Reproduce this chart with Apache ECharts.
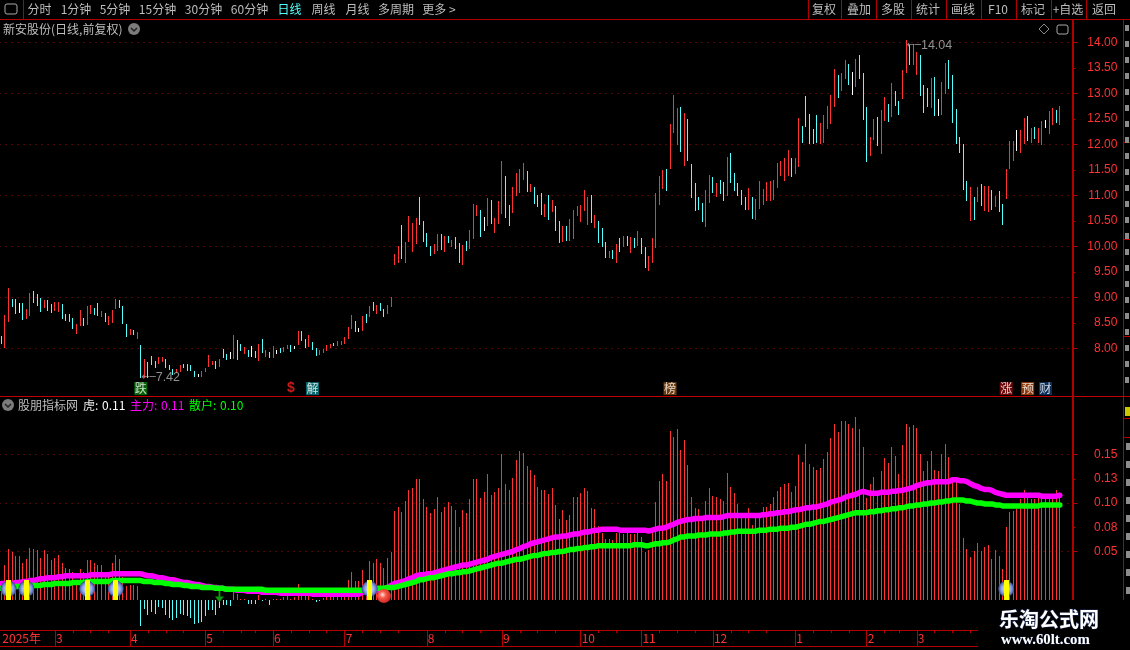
<!DOCTYPE html>
<html><head><meta charset="utf-8">
<style>html,body{margin:0;padding:0;background:#000;overflow:hidden}#c{width:1130px;height:650px}</style>
<script src="https://cdn.jsdelivr.net/npm/echarts@6/dist/echarts.min.js"></script>
</head><body><div id="c"></div>
<script>
const lows=[
8.08,8.00,8.52,8.81,8.67,8.69,8.56,8.58,8.63,8.89,
8.83,8.71,8.79,8.73,8.69,8.73,8.71,8.58,8.54,8.52,
8.38,8.28,8.44,8.44,8.45,8.67,8.65,8.63,8.61,8.52,
8.46,8.50,8.77,8.79,8.48,8.22,8.26,8.26,8.18,7.42,
7.42,7.42,7.67,7.61,7.69,7.73,7.61,7.58,7.48,7.52,
7.54,7.61,7.56,7.56,7.44,7.44,7.44,7.54,7.63,7.67,
7.59,7.63,7.81,7.77,7.79,7.79,7.77,7.95,7.89,7.83,
7.83,7.81,7.75,7.91,7.83,7.81,7.81,7.89,7.91,7.93,
7.99,7.93,7.99,8.07,8.14,8.01,8.03,7.97,7.85,7.87,
7.91,7.95,8.01,8.05,8.05,8.07,8.08,8.18,8.38,8.32,
8.32,8.34,8.50,8.61,8.73,8.67,8.73,8.61,8.67,8.81,
9.63,9.67,9.75,9.67,10.08,9.89,10.05,10.42,10.08,9.99,
9.81,9.85,9.91,9.93,9.89,10.07,9.99,9.95,9.67,9.63,
9.91,9.95,10.14,10.59,10.18,10.30,10.40,10.44,10.26,10.44,
10.63,10.56,10.40,10.65,10.99,11.05,11.30,11.07,11.07,10.83,
10.77,10.61,10.58,10.52,10.67,10.30,10.07,10.08,10.10,10.10,
10.14,10.59,10.48,10.69,10.42,10.46,10.36,10.07,9.99,9.77,
9.77,9.75,9.67,9.89,9.99,10.01,9.87,9.97,10.01,9.85,
9.58,9.52,9.67,9.97,10.81,11.12,11.08,11.52,12.22,11.99,
11.85,11.58,11.67,10.94,10.69,10.71,10.48,10.38,10.85,11.05,
10.97,11.03,10.89,10.99,11.24,11.08,10.99,10.81,10.71,10.71,
10.54,10.52,10.73,10.81,10.89,10.89,10.91,11.14,11.38,11.28,
11.38,11.36,11.42,11.56,12.03,12.34,12.01,12.01,12.03,12.01,
12.03,12.30,12.40,12.73,12.91,13.05,13.28,13.16,12.97,13.12,
13.28,12.48,11.65,11.77,12.08,11.97,11.81,12.46,12.44,12.54,
12.75,12.58,12.89,13.40,13.56,13.56,13.36,12.95,12.61,12.73,
12.71,12.56,12.56,12.58,12.99,13.08,12.42,12.01,11.83,11.10,
10.89,10.50,10.52,10.87,10.79,10.69,10.67,10.71,10.77,10.67,
10.42,10.93,11.52,11.67,11.87,11.83,12.01,12.07,12.03,12.10,
12.03,11.99,12.32,12.20,12.38,12.42,12.38];
const highs=[
8.24,8.65,9.18,8.97,8.97,8.89,8.89,8.77,9.08,9.12,
9.07,8.99,8.95,8.95,8.87,8.91,8.91,8.87,8.67,8.67,
8.59,8.48,8.75,8.59,8.83,8.85,8.79,8.89,8.73,8.69,
8.63,8.75,8.97,8.95,8.83,8.48,8.38,8.36,8.32,8.07,
7.79,7.73,7.85,7.75,7.83,7.83,7.79,7.67,7.59,7.59,
7.67,7.69,7.69,7.67,7.56,7.50,7.56,7.61,7.87,7.75,
7.75,7.79,7.99,7.89,7.93,8.26,8.16,8.08,8.03,7.97,
8.05,7.95,8.08,8.18,7.97,7.93,8.05,7.97,8.01,8.03,
8.07,8.07,8.05,8.34,8.34,8.18,8.26,8.12,8.01,7.97,
7.99,8.07,8.08,8.10,8.14,8.14,8.22,8.42,8.65,8.54,
8.40,8.63,8.67,8.83,8.91,8.85,8.89,8.77,8.85,9.01,
9.85,10.01,10.42,10.08,10.59,10.46,10.56,10.97,10.50,10.26,
10.01,10.05,10.24,10.24,10.20,10.20,10.12,10.18,10.07,10.03,
10.10,10.32,10.83,10.81,10.71,10.58,10.95,10.91,10.56,10.89,
11.67,11.38,10.81,11.16,11.44,11.52,11.63,11.48,11.22,11.16,
11.01,11.05,10.83,11.01,10.91,10.79,10.50,10.40,10.40,10.54,
10.71,10.79,10.81,11.10,10.97,11.01,10.61,10.50,10.36,10.08,
9.91,9.93,10.05,10.16,10.20,10.20,10.18,10.16,10.30,10.16,
9.99,9.81,10.16,11.05,11.38,11.50,11.52,12.40,12.97,12.71,
12.73,12.61,12.50,11.61,11.24,10.97,10.85,11.10,11.40,11.36,
11.24,11.30,11.26,11.75,11.83,11.44,11.24,11.10,10.97,11.14,
10.97,10.93,11.28,11.12,11.26,11.28,11.30,11.63,11.67,11.73,
11.89,11.73,11.73,12.52,12.36,12.95,12.59,12.30,12.58,12.42,
12.58,12.75,12.97,13.48,13.36,13.40,13.65,13.57,13.42,13.67,
13.75,13.40,12.73,12.14,12.50,12.54,12.67,12.93,12.79,13.20,
13.05,12.85,13.46,14.04,13.95,13.97,13.81,13.75,13.16,13.10,
13.30,13.32,12.89,13.22,13.59,13.65,13.36,12.69,12.14,12.01,
11.28,11.16,10.97,11.16,11.22,11.18,11.18,11.10,10.99,11.08,
10.83,11.52,12.07,12.07,12.28,12.28,12.52,12.56,12.32,12.34,
12.32,12.46,12.48,12.65,12.71,12.67,12.75];
const tones=("crrccwcrrc"+"ccrccrrccc"+"crrcrrccrc"+"rrrcccrcrc"+"rcccrrcccr"+"rccccwrrrr"+"crccwrccrc"+"wcrcrcrwcr"+"rcwrccrccr"+"rrrcrrrrrc"+
"wrcrcrccrr"+"rrcrrrrccc"+"crrcrcrccr"+"crrrcwrcrr"+"rccrrrrcrc"+"ccrcrccrcr"+"rrrrrcrccc"+"rcrcrcrcrc"+"crrrrrcrrr"+"crcccccrrc"+
"rccrcccccr"+"crrrrrrrrr"+"rcrrcccccr"+"rrrrcrrcwr"+"cccrrcrrcr"+"ccrrcrrccc"+"rcwrrccccc"+"crcrcrrcrc"+"crrrwrrcrc"+"rrwrrcr").split('');
const osc=[
.020,.036,.053,.049,.045,.045,.038,.042,.054,.053,
.052,.043,.052,.047,.041,.043,.046,.038,.033,.032,
.029,.021,.032,.029,.041,.041,.038,.036,.036,.027,
.026,.038,.046,.042,.024,.014,.015,.015,.014,-.027,
-.009,-.015,-.012,-.014,-.007,-.008,-.015,-.019,-.021,-.019,
-.014,-.015,-.016,-.019,-.025,-.024,-.023,-.016,-.010,-.010,
-.015,-.008,-.005,-.005,-.006,.009,.006,.001,.001,-.004,
-.004,-.004,.005,-.001,.001,-.005,.001,.001,.001,.003,
.004,.001,.003,.016,.006,.004,.006,.001,-.002,-.001,
.002,.005,.005,.005,.005,.005,.007,.021,.029,.020,
.020,.031,.015,.040,.038,.042,.038,.033,.043,.049,
.092,.096,.091,.102,.113,.115,.125,.125,.104,.096,
.090,.094,.106,.091,.096,.101,.097,.093,.075,.093,
.090,.104,.125,.125,.105,.111,.130,.108,.111,.115,
.151,.120,.113,.126,.144,.154,.152,.138,.134,.129,
.116,.113,.113,.109,.115,.098,.084,.093,.082,.088,
.106,.106,.110,.115,.112,.095,.094,.076,.069,.063,
.063,.062,.069,.069,.068,.069,.068,.068,.069,.065,
.049,.052,.070,.101,.123,.130,.123,.174,.168,.176,
.155,.165,.139,.106,.095,.094,.082,.102,.115,.107,
.106,.104,.102,.131,.116,.110,.099,.090,.090,.095,
.077,.085,.090,.096,.096,.099,.106,.112,.117,.120,
.121,.111,.118,.150,.142,.161,.140,.137,.134,.136,
.145,.153,.167,.181,.173,.185,.185,.181,.177,.189,
.176,.158,.105,.120,.127,.111,.133,.146,.141,.158,
.148,.130,.160,.181,.178,.180,.177,.151,.133,.143,
.154,.134,.133,.151,.161,.147,.124,.124,.099,.064,
.053,.044,.051,.059,.051,.055,.057,.042,.052,.045,
.032,.075,.091,.092,.094,.104,.113,.105,.104,.104,
.106,.105,.106,.104,.105,.113,.106];
const mainForce=[
.017,.017,.017,.017,.018,.018,.019,.019,.020,.020,
.021,.022,.022,.023,.023,.023,.024,.024,.025,.025,
.025,.025,.025,.025,.025,.026,.026,.026,.026,.026,
.026,.027,.027,.027,.027,.027,.027,.027,.027,.027,
.026,.025,.025,.024,.023,.023,.022,.021,.021,.020,
.019,.018,.018,.017,.016,.016,.015,.014,.014,.013,
.013,.012,.012,.011,.011,.011,.010,.010,.010,.009,
.009,.009,.009,.008,.008,.008,.008,.008,.007,.007,
.007,.007,.007,.007,.007,.007,.007,.006,.006,.006,
.006,.006,.006,.006,.006,.006,.006,.006,.006,.006,
.006,.008,.009,.009,.010,.010,.011,.012,.013,.015,
.017,.018,.019,.020,.022,.023,.025,.026,.026,.027,
.027,.028,.029,.030,.031,.032,.033,.034,.035,.036,
.036,.037,.038,.039,.040,.041,.042,.044,.045,.046,
.047,.048,.049,.050,.052,.053,.055,.056,.058,.059,
.060,.061,.062,.063,.064,.065,.065,.066,.066,.067,
.068,.068,.069,.070,.070,.071,.072,.072,.073,.073,
.073,.073,.073,.072,.072,.072,.072,.072,.072,.072,
.072,.071,.072,.073,.074,.074,.075,.077,.078,.080,
.081,.082,.083,.083,.084,.084,.084,.085,.085,.085,
.085,.085,.086,.087,.087,.087,.087,.087,.087,.087,
.087,.087,.087,.088,.088,.089,.089,.090,.090,.091,
.091,.092,.093,.093,.094,.095,.095,.096,.096,.097,
.098,.099,.101,.102,.103,.104,.106,.107,.108,.109,
.111,.112,.111,.110,.110,.110,.111,.111,.111,.112,
.112,.113,.113,.114,.115,.116,.118,.119,.120,.121,
.121,.122,.122,.122,.122,.122,.124,.124,.123,.123,
.122,.120,.118,.117,.115,.114,.114,.113,.111,.110,
.109,.108,.108,.108,.108,.108,.108,.108,.108,.108,
.108,.107,.107,.107,.107,.107,.108];
const retail=[
.012,.012,.012,.013,.014,.014,.014,.014,.015,.015,
.015,.015,.016,.016,.016,.017,.017,.017,.017,.017,
.018,.018,.018,.018,.019,.019,.019,.019,.019,.019,
.019,.020,.020,.020,.020,.020,.020,.020,.020,.020,
.019,.019,.019,.018,.018,.018,.017,.017,.016,.016,
.016,.015,.015,.014,.014,.014,.013,.013,.013,.013,
.012,.012,.012,.011,.011,.011,.011,.011,.011,.011,
.011,.011,.011,.011,.010,.010,.010,.010,.010,.010,
.010,.010,.010,.010,.010,.010,.010,.010,.010,.010,
.010,.010,.010,.010,.010,.010,.010,.010,.010,.010,
.010,.010,.010,.011,.011,.012,.012,.012,.013,.013,
.013,.014,.015,.016,.017,.018,.019,.021,.021,.022,
.023,.023,.024,.025,.026,.027,.027,.028,.028,.029,
.029,.030,.031,.032,.033,.034,.035,.036,.037,.038,
.038,.039,.040,.041,.042,.042,.043,.044,.045,.046,
.046,.047,.048,.048,.049,.049,.050,.050,.051,.052,
.052,.053,.053,.054,.054,.055,.055,.056,.056,.056,
.056,.056,.056,.056,.056,.056,.056,.057,.057,.057,
.056,.056,.057,.058,.058,.059,.059,.060,.062,.063,
.065,.065,.066,.066,.066,.067,.067,.067,.068,.068,
.068,.068,.069,.069,.070,.070,.071,.071,.071,.071,
.071,.071,.072,.072,.072,.073,.073,.073,.074,.074,
.074,.075,.075,.076,.077,.078,.078,.079,.080,.081,
.081,.082,.083,.084,.085,.086,.087,.088,.089,.090,
.090,.090,.090,.091,.091,.092,.092,.093,.093,.094,
.094,.095,.095,.096,.097,.097,.098,.098,.099,.099,
.100,.100,.101,.101,.102,.102,.103,.103,.103,.103,
.102,.102,.101,.100,.100,.099,.099,.099,.098,.098,
.097,.097,.097,.097,.097,.097,.097,.097,.097,.097,
.097,.098,.098,.098,.098,.098,.098];
const priceTickMajor=[8,9,10,11,12,13,14];
const priceTickMinor=[8.5,9.5,10.5,11.5,12.5,13.5];
const priceLabels=[8,8.5,9,9.5,10,10.5,11,11.5,12,12.5,13,13.5,14];
const oscTickMajor=[.05,.10,.15];
const oscTickMinor=[.075,.125];
const oscLabelText={'0.05':'0.05','0.075':'0.08','0.1':'0.10','0.125':'0.13','0.15':'0.15'};
const monthIdx=[0,15,36,57,76,96,119,140,162,179,199,222,242,256];
const monthText=['2025年','3','4','5','6','7','8','9','10','11','12','1','2','3'];
const weekIdx=[20,25,30,41,46,51,62,67,71,81,86,91,101,106,111,124,129,134,145,150,155,167,172,184,189,194,204,209,214,227,232,237,247,251,261,266,271];
const signalIdx=[2,7,24,32,103,281];
const signalTop=.0205, signalMid=.0115;
const ballIdx=107, ballVal=.004;
const dropIdx=61, dropVal=.0036;
const flags=[
 {i:39,t:'跌',bg:'#0a7a0a',fg:'#fff'},{i:81,t:'$',bg:'#000',fg:'#ff2020'},{i:87,t:'解',bg:'#0a7f86',fg:'#fff'},
 {i:187,t:'榜',bg:'#8a4a10',fg:'#fff'},{i:281,t:'涨',bg:'#8a0a0a',fg:'#fff'},{i:287,t:'预',bg:'#b04a10',fg:'#fff'},{i:292,t:'财',bg:'#103a70',fg:'#fff'}];
const flagLevel=7.21;
const lowMark={i:39,v:7.42,text:'7.42'}, highMark={i:253,v:14.04,text:'14.04'};
const leftButtons=[['分时',39.5],['1分钟',76],['5分钟',115],['15分钟',157.5],['30分钟',203.5],['60分钟',249.5],['日线',289.5,'#54ffff'],['周线',323.5],['月线',357.5],['多周期',396],['更多 >',439]];
const rightButtons=[['复权',824],['叠加',859],['多股',893],['统计',928],['画线',963],['F10',998],['标记',1033],['+自选',1068],['返回',1104]];
const rightSeps=[808,841,876,911,946,981,1016,1051,1086];
const legendItems=[['股朋指标网',18,'#bdbdbd'],['虎:',83,'#e8e8e8'],['0.11',102,'#ffffff'],['主力:',130,'#ff00ff'],['0.11',161,'#ff00ff'],['散户:',189,'#00ff00'],['0.10',220,'#00ff00']];

const RED='#ff3232',CYAN='#54ffff',LINE='#b00000',DOT='#a01010';
const toneColor={r:RED,c:CYAN,w:'#ffffff'};
const BAND=3.576,N=300,LEFT=1.33-BAND/2;
const cats=Array.from({length:N},(_,i)=>String(i));
const timeCats=cats.map(()=>'');
monthIdx.forEach((x,k)=>timeCats[x]=monthText[k]);
const FONT='"Noto Sans CJK SC"';

function renderCandle(params,api){
  const i=api.value(0), hi=api.coord([i,api.value(2)]), lo=api.coord([i,api.value(1)]);
  const top=Math.round(hi[1]), h=Math.max(1,Math.round(lo[1])-top);
  return {type:'rect',shape:{x:Math.floor(hi[0]),y:top,width:1,height:h},style:{fill:toneColor[tones[i]]}};
}
function renderOsc(params,api){
  const i=api.value(0), v=api.value(1), a=api.coord([i,0]), b=api.coord([i,v]);
  const y0=Math.round(Math.min(a[1],b[1])), y1=Math.round(Math.max(a[1],b[1]));
  return {type:'rect',shape:{x:Math.floor(a[0]),y:y0,width:1,height:Math.max(1,y1-y0)},style:{fill:v<0?CYAN:RED}};
}
function renderSignal(params,api){
  const i=api.value(0), a=api.coord([i,0]), b=api.coord([i,api.value(1)]);
  const y0=Math.round(b[1]);
  return {type:'rect',shape:{x:Math.floor(a[0])-2,y:y0,width:5,height:Math.round(a[1])-y0},style:{fill:'#ffff00'}};
}

const g=[];
function txt(t,x,y,fill,align,font){g.push({type:'text',z:100,x,y,style:{text:t,fill:fill||'#bdbdbd',align:align||'left',verticalAlign:'middle',font:font||('12px '+FONT)}});}
function rect(x,y,w,h,fill){g.push({type:'rect',z:99,shape:{x,y,width:w,height:h},style:{fill}});}
function chevCircle(x,y){
  g.push({type:'circle',z:100,shape:{cx:x,cy:y,r:6},style:{fill:'#7c7c7c'}});
  g.push({type:'polyline',z:101,shape:{points:[[x-3,y-1],[x,y+2],[x+3,y-1]]},style:{stroke:'#222',lineWidth:1.5,fill:null}});
}
rect(978,600,152,50,'#000');
rect(0,19,1130,1,LINE);
rect(0,396,1123,1,'#c00000');
rect(23,0,1,19,LINE);
rect(1072,19,2,581,LINE);
rect(1123,19,1,581,LINE);
rightSeps.forEach(x=>rect(x,0,1,19,LINE));
[142,239,336,396,418,437].forEach(y=>rect(1124,y,6,1,LINE));
for(let y=25;y<392;y+=16){ if(Math.abs(y-142)>4&&Math.abs(y-239)>4&&Math.abs(y-336)>4) rect(1125,y,4,6,'#8c8c8c'); }
for(let y=443;y<592;y+=18){ rect(1126,y,4,7,'#8c8c8c'); }
rect(1125,407,5,9,'#c8c800');
g.push({type:'rect',z:100,shape:{x:5,y:4,width:12,height:10,r:2},style:{fill:'#000',stroke:'#a8a8a8',lineWidth:1}});
rect(11,5,5,8,'#a8a8a8');
leftButtons.forEach(b=>txt(b[0],b[1],9.5,b[2]||'#bdbdbd','center'));
rightButtons.forEach(b=>txt(b[0],b[1],9.5,'#bdbdbd','center'));
txt('新安股份(日线,前复权)',3,29,'#bdbdbd');
chevCircle(134,29);
g.push({type:'polygon',z:100,shape:{points:[[1044,24],[1049,29],[1044,34],[1039,29]]},style:{fill:null,stroke:'#8a8a8a',lineWidth:1}});
g.push({type:'rect',z:100,shape:{x:1057,y:25,width:11,height:9,r:2},style:{fill:'#000',stroke:'#a8a8a8',lineWidth:1}});
rect(1063,26,4,7,'#a8a8a8');
chevCircle(8,405);
legendItems.forEach(it=>txt(it[0],it[1],405,it[2]));
txt('乐淘公式网',999,619,'#ffffff','left','bold 20px '+FONT);
g[g.length-1].style.stroke='#1c2c58';g[g.length-1].style.lineWidth=1;
txt('www.60lt.com',1001,640,'#ffffff','left','bold 14.8px "Liberation Serif"');
g[g.length-1].style.stroke='#1c2c58';g[g.length-1].style.lineWidth=.6;

const grids=[
 {left:LEFT,width:BAND*N,top:16.8,height:382.5,outerBoundsMode:'none'},
 {left:LEFT,width:BAND*N,top:406,height:242.5,outerBoundsMode:'none'},
 {left:LEFT,width:BAND*N,top:630,height:16,outerBoundsMode:'none'}];
const hiddenX=i=>({type:'category',gridIndex:i,data:cats,show:false,boundaryGap:true});
const arrowRich=t=>'{a|←─}{b|'+t+'}';
const markRich={a:{fontSize:10,fontFamily:'"DejaVu Sans"',color:'#b4b4b4'},b:{fontSize:12.5,fontFamily:'"Liberation Sans"',color:'#b4b4b4'}};
const opt={
 backgroundColor:'#000',animation:false,
 grid:grids,
 xAxis:[hiddenX(0),hiddenX(1),
  {type:'category',gridIndex:2,position:'top',data:timeCats,boundaryGap:true,
   axisLine:{show:true,onZero:false,lineStyle:{color:LINE,width:1}},
   axisTick:{show:true,inside:true,length:16,alignWithLabel:true,customValues:monthIdx.slice(1),lineStyle:{color:LINE}},
   axisLabel:{show:true,inside:true,customValues:monthIdx,color:RED,fontSize:12,fontFamily:FONT,margin:2,align:'left',padding:[0,0,0,1],verticalAlign:'top',formatter:v=>v,hideOverlap:false}},
  {type:'category',gridIndex:2,position:'bottom',data:timeCats,boundaryGap:true,
   axisLine:{show:true,onZero:false,lineStyle:{color:LINE,width:1}},axisTick:{show:false},axisLabel:{show:false}},
  {type:'category',gridIndex:2,position:'top',data:timeCats,boundaryGap:true,
   axisLine:{show:false,onZero:false},
   axisTick:{show:true,inside:true,length:3,alignWithLabel:true,customValues:weekIdx,lineStyle:{color:LINE}},
   axisLabel:{show:false}}],
 yAxis:[
  {type:'value',gridIndex:0,position:'right',min:7,max:14.5,interval:1,
   axisLine:{show:false},
   axisTick:{show:true,length:5,customValues:priceTickMajor,lineStyle:{color:LINE,width:1}},
   splitLine:{show:true,lineStyle:{color:DOT,type:[1,5],width:1}},
   axisLabel:{show:true,customValues:priceLabels,color:RED,fontSize:12,fontFamily:'"Liberation Sans"',align:'right',margin:45,padding:[4,0,0,0],formatter:v=>v.toFixed(2),hideOverlap:false}},
  {type:'value',gridIndex:1,position:'right',min:-.05,max:.2,interval:.05,
   axisLine:{show:false},
   axisTick:{show:true,length:5,customValues:oscTickMajor,lineStyle:{color:LINE,width:1}},
   splitLine:{show:true,lineStyle:{color:DOT,type:[1,5],width:1}},
   axisLabel:{show:true,customValues:oscTickMajor.concat(oscTickMinor),color:RED,fontSize:12,fontFamily:'"Liberation Sans"',align:'right',margin:45,padding:[4,0,0,0],formatter:v=>oscLabelText[String(+v.toFixed(3))]||'',hideOverlap:false}},
  {type:'value',gridIndex:2,show:false,min:0,max:1},
  {type:'value',gridIndex:0,position:'right',min:7,max:14.5,interval:1,
   axisLine:{show:false,onZero:false},splitLine:{show:false},axisLabel:{show:false},
   axisTick:{show:true,length:3,customValues:priceTickMinor,lineStyle:{color:LINE,width:1}}},
  {type:'value',gridIndex:1,position:'right',min:-.05,max:.2,interval:.05,
   axisLine:{show:false,onZero:false},splitLine:{show:false},axisLabel:{show:false},
   axisTick:{show:true,length:3,customValues:oscTickMinor,lineStyle:{color:LINE,width:1}}}],
 graphic:{elements:g},
 series:[
  {type:'custom',name:'K线',xAxisIndex:0,yAxisIndex:0,renderItem:renderCandle,z:3,
   data:lows.map((l,i)=>[i,l,highs[i]]),encode:{x:0,y:[1,2]},clip:false},
  {type:'scatter',xAxisIndex:0,yAxisIndex:0,symbolSize:1,itemStyle:{color:'rgba(0,0,0,0)'},z:5,
   data:[[lowMark.i,lowMark.v]],
   label:{show:true,position:'right',distance:0,formatter:arrowRich(lowMark.text),rich:markRich}},
  {type:'scatter',xAxisIndex:0,yAxisIndex:0,symbolSize:1,itemStyle:{color:'rgba(0,0,0,0)'},z:5,
   data:[[highMark.i,highMark.v]],
   label:{show:true,position:'right',distance:0,offset:[0,5],formatter:arrowRich(highMark.text),rich:markRich}},
  {type:'scatter',xAxisIndex:0,yAxisIndex:0,symbol:'rect',symbolSize:13,z:5,
   data:flags.map(f=>({value:[f.i,flagLevel],itemStyle:{color:f.bg},
     label:{show:true,position:'inside',formatter:f.t,color:f.fg,fontSize:f.t==='$'?14:12,fontWeight:f.t==='$'?'bold':'normal',fontFamily:f.t==='$'?'"Liberation Sans"':FONT}}))},
  {type:'custom',name:'虎',xAxisIndex:1,yAxisIndex:1,renderItem:renderOsc,z:2,
   data:osc.map((v,i)=>[i,v]),encode:{x:0,y:1},clip:false},
  {type:'line',name:'主力',xAxisIndex:1,yAxisIndex:1,data:mainForce,showSymbol:false,lineStyle:{color:'#ff00ff',width:5.5,cap:'round'},z:3},
  {type:'line',name:'散户',xAxisIndex:1,yAxisIndex:1,data:retail,showSymbol:false,lineStyle:{color:'#00ff00',width:5.5,cap:'round'},z:4},
  {type:'scatter',xAxisIndex:1,yAxisIndex:1,symbol:'circle',symbolSize:16,z:6,
   data:signalIdx.map(i=>[i,signalMid]),
   itemStyle:{opacity:1,color:new echarts.graphic.RadialGradient(.5,.5,.5,[{offset:0,color:'#f0f4ff'},{offset:.6,color:'#8ea4e4'},{offset:.85,color:'#5a70b8'},{offset:1,color:'#2c3c80'}])}},
  {type:'custom',xAxisIndex:1,yAxisIndex:1,renderItem:renderSignal,z:7,
   data:signalIdx.map(i=>[i,signalTop]),encode:{x:0,y:1},clip:false},
  {type:'scatter',xAxisIndex:1,yAxisIndex:1,symbol:'circle',symbolSize:14,z:8,
   data:[[ballIdx,ballVal]],
   itemStyle:{opacity:1,color:new echarts.graphic.RadialGradient(.4,.4,.7,[{offset:0,color:'#ffe0d8'},{offset:.35,color:'#f85848'},{offset:1,color:'#c01818'}])}},
  {type:'scatter',xAxisIndex:1,yAxisIndex:1,symbol:'path://M4,0 L6,0 L6,6 L10,6 L5,12 L0,6 L4,6 Z',symbolSize:[9,11],z:8,
   data:[[dropIdx,dropVal]],itemStyle:{opacity:1,color:'#0a9a0a'}}
 ]
};
echarts.init(document.getElementById('c'),null,{renderer:'canvas'}).setOption(opt);
</script></body></html>
